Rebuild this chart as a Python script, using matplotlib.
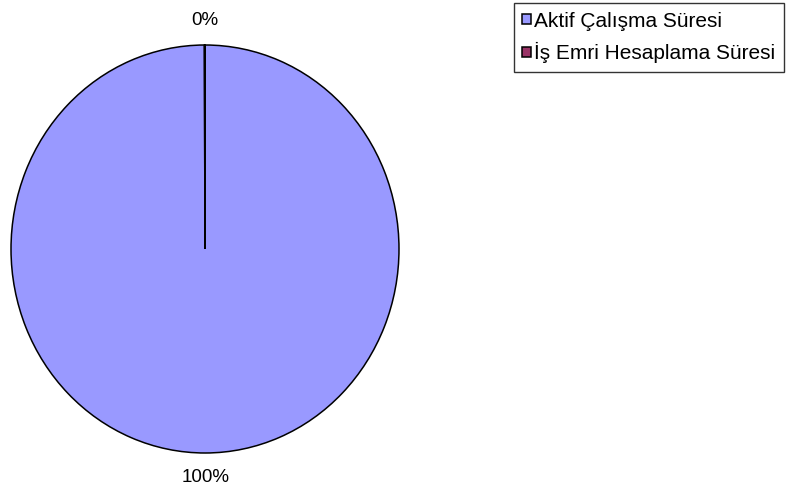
import matplotlib
matplotlib.use("Agg")
import matplotlib.pyplot as plt

categories = ["Aktif Çalışma Süresi", "İş Emri Hesaplama Süresi"]
values = [99.95, 0.05]
colors = ["#9999FF", "#993366"]

plt.rcParams['font.family'] = ['Liberation Sans', 'DejaVu Sans']

W, H = 787, 493
fig = plt.figure(figsize=(W / 100, H / 100), dpi=100)
ax = fig.add_axes([11 / W, 1 - 453 / H, 388 / W, 408 / H])
wedges, texts, autotexts = ax.pie(
    values, colors=colors, startangle=90, counterclock=False,
    wedgeprops=dict(edgecolor="black", linewidth=1.1),
    autopct=lambda p: f"{p:.0f}%", pctdistance=1.12,
    textprops=dict(fontsize=13.5, color="black"),
)
ax.set_aspect("auto")
ax.set_xlim(-1, 1)
ax.set_ylim(-1, 1)
ax.axis("off")

leg = fig.legend(
    wedges, categories, loc="upper right",
    bbox_to_anchor=(784 / W, 1 - 3 / H), borderaxespad=0,
    fontsize=15, fancybox=False, frameon=True, edgecolor="black",
    handlelength=0.42, handleheight=0.35, handletextpad=0.15,
    labelspacing=0.55, borderpad=0.42,
)
leg.get_frame().set_linewidth(1)

fig.savefig("out.png", dpi=100)
